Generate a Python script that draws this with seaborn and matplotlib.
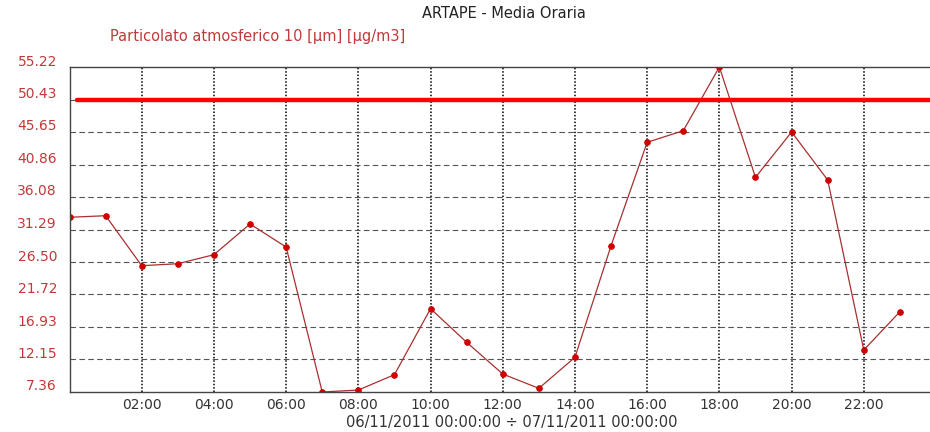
import pandas as pd
import seaborn as sns
import matplotlib.pyplot as plt
import matplotlib.dates as mdates
import matplotlib.transforms as mtransforms

# data: hourly PM10, 06/11/2011
times = pd.date_range("2011-11-06 00:00", periods=24, freq="h")
pm10 = [33.09, 33.32, 25.96, 26.25, 27.58, 32.10, 28.71, 7.36,
        7.65, 9.91, 19.63, 14.68, 10.01, 7.90, 12.47, 28.90,
        44.13, 45.84, 55.22, 38.97, 45.65, 38.58, 13.54, 19.18]
limit_value = 50.43
y_ticks = [7.36, 12.15, 16.93, 21.72, 26.50, 31.29, 36.08, 40.86, 45.65, 50.43, 55.22]

df = pd.DataFrame({"time": times, "pm10": pm10})

sns.set_style("white")
plt.rcParams['font.family'] = ['DejaVu Sans']

fig = plt.figure(figsize=(9.3, 4.32), dpi=100)
ax = fig.add_axes([69.5 / 930, 40 / 432, 866.5 / 930, 325 / 432])

sns.lineplot(data=df, x="time", y="pm10", ax=ax, color="#a83030", lw=0.9,
             marker="o", markersize=4, markerfacecolor="#d00000",
             markeredgecolor="#d00000")

ax.axhline(limit_value, xmin=0.009, color="#ff0000", lw=3.2, zorder=3)

ax.set_xlim(pd.Timestamp("2011-11-06 00:00"), pd.Timestamp("2011-11-07 00:00"))
ax.set_ylim(y_ticks[0], y_ticks[-1])
ax.xaxis.set_major_locator(mdates.HourLocator(byhour=range(2, 24, 2)))
ax.xaxis.set_major_formatter(mdates.DateFormatter("%H:%M"))
ax.set_yticks(y_ticks)
ax.set_yticklabels([f"{v:.2f}" for v in y_ticks])

ax.grid(False)
for v in y_ticks[1:-1]:
    ax.axhline(v, color="#555555", lw=0.8, ls=(0, (5, 3)), zorder=1)
ax.xaxis.grid(True, color="black", lw=1.1, ls=(0, (1, 1.2)))

ax.tick_params(axis="both", length=0, labelsize=10)
ax.tick_params(axis="y", pad=9, labelcolor="#c03a3a")
ax.tick_params(axis="x", pad=4, labelcolor="#333333")
offset = mtransforms.ScaledTranslation(0, 7 / 100, fig.dpi_scale_trans)
for lab in ax.get_yticklabels():
    lab.set_transform(lab.get_transform() + offset)

for side in ["left", "bottom", "top"]:
    ax.spines[side].set_color("#444444")
    ax.spines[side].set_linewidth(1.0)
ax.spines["right"].set_visible(False)

ax.set_xlabel("06/11/2011 00:00:00 \u00f7 07/11/2011 00:00:00", fontsize=10.5,
              color="#333333", va="center")
ax.xaxis.set_label_coords((512 - 69.5) / 866.5, (392 - 423) / 325)
ax.set_ylabel("")

fig.text(504 / 930, 1 - 14 / 432, "ARTAPE - Media Oraria", ha="center",
         va="center", fontsize=10.5, color="#222222")
fig.text(110 / 930, 1 - 36 / 432, "Particolato atmosferico 10 [\u00b5m] [\u00b5g/m3]",
         ha="left", va="center", fontsize=10.5, color="#c03a3a")

fig.savefig("out.png", dpi=100)
